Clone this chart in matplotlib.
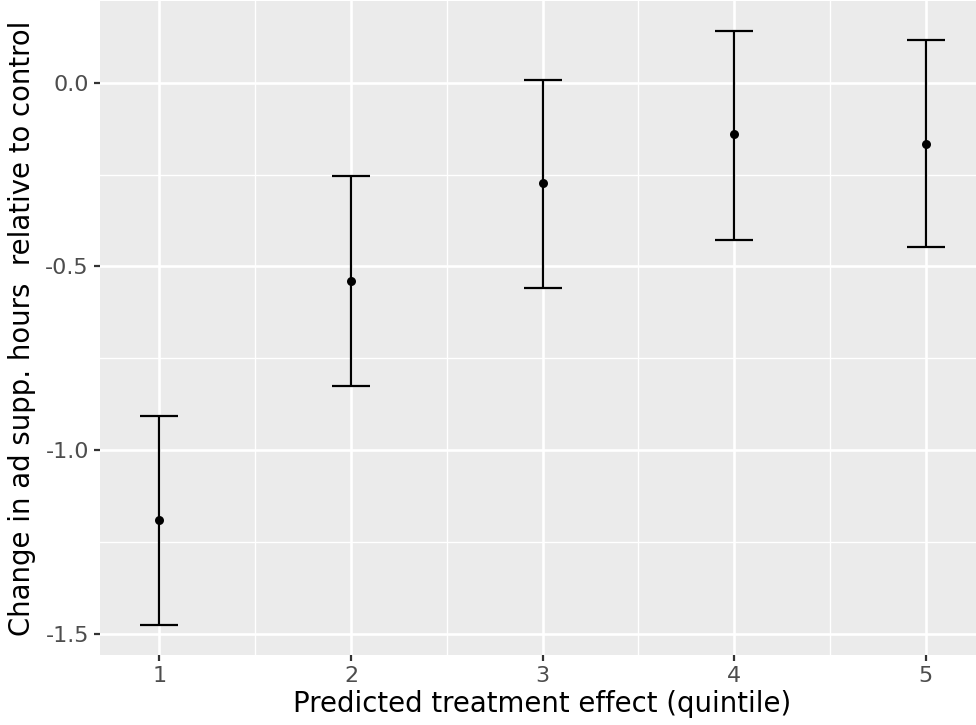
import matplotlib
matplotlib.use("Agg")
import matplotlib.pyplot as plt
import numpy as np

# Treatment-effect quintiles with point estimates and 95% intervals
quintiles = [1, 2, 3, 4, 5]
estimate = [-1.190, -0.541, -0.274, -0.141, -0.166]
lower = [-1.476, -0.826, -0.560, -0.427, -0.446]
upper = [-0.908, -0.255, 0.008, 0.141, 0.117]
y_ticks = [0.0, -0.5, -1.0, -1.5]
y_tick_labels = ["0.0", "-0.5", "-1.0", "-1.5"]

W, H = 976, 725
fig = plt.figure(figsize=(W / 100, H / 100), dpi=100)
left, right, top, bottom = 100, 985, 1, 655
ax = fig.add_axes([left / W, (H - bottom) / H, (right - left) / W, (bottom - top) / H])

ax.set_facecolor("#EBEBEB")
for s in ax.spines.values():
    s.set_visible(False)

x = np.array(quintiles, dtype=float)
est = np.array(estimate)
lo = np.array(lower)
hi = np.array(upper)

ax.errorbar(x, est, yerr=[est - lo, hi - est], fmt="none", ecolor="black",
            elinewidth=1.6, capsize=13.7, capthick=1.6, zorder=3)
ax.scatter(x, est, s=42, color="black", zorder=4, linewidths=0)

ax.set_xlim(0.69, 5.31)
ax.set_ylim(-1.557, 0.222)
ax.set_xticks(quintiles)
ax.set_xticklabels([str(q) for q in quintiles])
ax.set_yticks(y_ticks)
ax.set_yticklabels(y_tick_labels)
ax.set_xticks([1.5, 2.5, 3.5, 4.5], minor=True)
ax.set_yticks([-0.25, -0.75, -1.25], minor=True)

ax.grid(which="major", color="white", linewidth=1.9, zorder=0)
ax.grid(which="minor", color="white", linewidth=0.95, zorder=0)
ax.set_axisbelow(True)

ax.tick_params(which="major", length=4.5, width=1.6, color="#333333",
               labelcolor="#4D4D4D", labelsize=16, pad=3.5)
ax.tick_params(which="minor", length=0)

ax.set_xlabel("Predicted treatment effect (quintile)", fontsize=19.8, color="black", labelpad=3)
ax.set_ylabel("Change in ad supp. hours  relative to control", fontsize=19.8, color="black", labelpad=7)

fig.savefig("out.png", dpi=100)
